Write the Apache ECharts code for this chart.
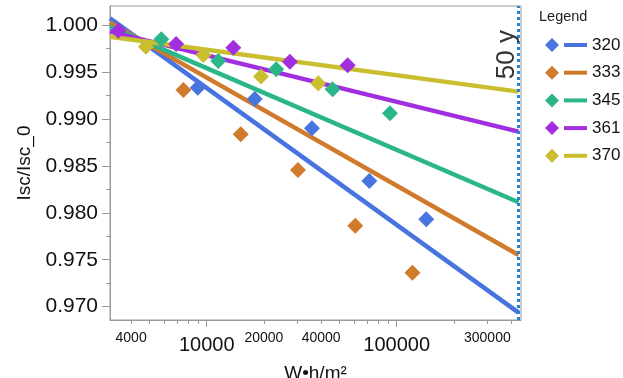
<!DOCTYPE html>
<html>
<head>
<meta charset="utf-8">
<script src="https://cdn.jsdelivr.net/npm/echarts@6/dist/echarts.min.js"></script>
<style>html,body{margin:0;padding:0;background:#fff;}#c{width:623px;height:378px;}</style>
</head>
<body>
<div id="c"></div>
<script>
// ---- data ----
const seriesNames = ['320', '333', '345', '361', '370'];
const colors = ['#4874e0', '#d07a2c', '#2bb68a', '#a32ee0', '#c9be2e'];
const pts320 = [[8970, 0.99332], [17900, 0.99212], [35800, 0.98900], [71800, 0.98339], [143000, 0.97931]];
const pts333 = [[7540, 0.99308], [15100, 0.98836], [30200, 0.98456], [60500, 0.97863], [121000, 0.97362]];
const pts345 = [[5770, 0.99848], [11500, 0.99617], [23200, 0.99528], [46000, 0.99315], [92200, 0.99060]];
const pts361 = [[3427, 0.99939], [6900, 0.99798], [13800, 0.99758], [27400, 0.99609], [55200, 0.99571]];
const pts370 = [[4790, 0.99769], [9600, 0.99681], [19300, 0.99450], [38600, 0.99379]];
const fitStartX = 3097;
const fitEndX = 438000;
const fitStart = [1.00071, 1.00025, 0.99982, 0.99929, 0.99875];
const fitEnd = [0.96936, 0.97551, 0.98112, 0.98864, 0.99290];
const xMin = 3097, xMax = 451000;
const yMin = 0.96858, yMax = 1.00202;
const xLabelValues = [4000, 10000, 20000, 40000, 100000, 300000];
const xBigLabels = [10000, 100000];
const xTickValues = [4000, 5000, 6000, 7000, 8000, 9000, 10000, 20000, 30000, 40000, 50000, 60000, 70000, 80000, 90000, 100000, 200000, 300000, 400000];
const yTickValues = [0.970, 0.975, 0.980, 0.985, 0.990, 0.995, 1.000];
const yMinorTickValues = [0.9725, 0.9775, 0.9825, 0.9875, 0.9925, 0.9975];
const lifetimeX = 438000;
const lifetimeLabel = '50 y';

const allPts = [pts320, pts333, pts345, pts361, pts370];
const FONT = 'Liberation Sans, Helvetica, Arial, sans-serif';

const series = [];
seriesNames.forEach((n, i) => {
  series.push({
    name: n + ' fit', type: 'line', xAxisIndex: 0, yAxisIndex: 0,
    data: [[fitStartX, fitStart[i]], [fitEndX, fitEnd[i]]],
    showSymbol: false, symbol: 'none', silent: true,
    lineStyle: {color: colors[i], width: 4.5}, itemStyle: {color: colors[i]},
    z: 2
  });
});
series[0].markLine = {
  silent: true, symbol: 'none',
  lineStyle: {type: 'dotted', color: '#1a88d6', width: 3},
  label: {show: true, formatter: lifetimeLabel, position: 'insideEndTop', distance: [24, -1],
          fontSize: 26, color: '#333', fontFamily: FONT},
  data: [{xAxis: lifetimeX}]
};
seriesNames.forEach((n, i) => {
  series.push({
    name: n, type: 'scatter', xAxisIndex: 0, yAxisIndex: 0,
    data: allPts[i], symbol: 'diamond', symbolSize: 16,
    itemStyle: {color: colors[i], opacity: 1}, z: 3
  });
});

const chart = echarts.init(document.getElementById('c'));
chart.setOption({
  animation: false,
  backgroundColor: '#fff',
  title: {text: 'Legend', left: 539, top: 9, padding: 0, textStyle: {fontSize: 14.5, fontWeight: 'normal', color: '#222', fontFamily: FONT}},
  legend: [
    {data: seriesNames, left: 545, top: 36.5, padding: 0, orient: 'vertical', icon: 'diamond', itemWidth: 14, itemHeight: 14,
     itemGap: 10.7, selectedMode: false, formatter: () => ' ', textStyle: {fontSize: 17, fontFamily: FONT}},
    {data: seriesNames.map(n => n + ' fit'), left: 564, top: 36.5, padding: 0, orient: 'vertical', icon: 'rect', itemWidth: 23, itemHeight: 4,
     itemGap: 10.7, selectedMode: false, formatter: n => n.replace(' fit', ''),
     textStyle: {fontSize: 17, color: '#111', fontFamily: FONT}}
  ],
  grid: {left: 110, right: 102, top: 6, bottom: 58, outerBoundsMode: 'none', containLabel: false,
         show: true, borderColor: '#999', borderWidth: 1, backgroundColor: 'transparent'},
  xAxis: [
    {type: 'log', logBase: 10, min: xMin, max: xMax, position: 'bottom',
     name: 'W•h/m²', nameLocation: 'middle', nameGap: 44,
     nameTextStyle: {fontSize: 19, color: '#111', fontFamily: FONT},
     axisLine: {show: true, lineStyle: {color: '#999'}},
     axisTick: {show: true, customValues: xTickValues, length: 4, lineStyle: {color: '#999'}},
     minorTick: {show: false},
     splitLine: {show: false}, minorSplitLine: {show: false},
     axisLabel: {show: true, customValues: xLabelValues, margin: 10,
       formatter: v => (xBigLabels.indexOf(Math.round(v)) >= 0 ? '{b|' : '{s|') + Math.round(v) + '}',
       rich: {s: {fontSize: 14, lineHeight: 16, color: '#111', fontFamily: FONT},
              b: {fontSize: 20, lineHeight: 30, color: '#111', fontFamily: FONT}}}},
    {type: 'log', logBase: 10, min: xMin, max: xMax, position: 'bottom',
     axisLine: {show: false},
     axisTick: {show: true, customValues: xBigLabels, length: 7, lineStyle: {color: '#999'}},
     axisLabel: {show: false}, splitLine: {show: false}}
  ],
  yAxis: [
    {type: 'value', min: yMin, max: yMax,
     name: 'Isc/Isc_0', nameLocation: 'middle', nameGap: 74,
     nameTextStyle: {fontSize: 19, color: '#111', fontFamily: FONT},
     axisLine: {show: true, lineStyle: {color: '#999'}},
     axisTick: {show: true, customValues: yTickValues, length: 8, lineStyle: {color: '#999'}},
     axisLabel: {show: true, customValues: yTickValues, margin: 12, fontSize: 21, color: '#111', fontFamily: FONT,
       formatter: v => v.toFixed(3)},
     splitLine: {show: false}},
    {type: 'value', min: yMin, max: yMax, position: 'left',
     axisLine: {show: false},
     axisTick: {show: true, customValues: yMinorTickValues, length: 4, lineStyle: {color: '#999'}},
     axisLabel: {show: false}, splitLine: {show: false}}
  ],
  series: series
});
</script>
</body>
</html>
